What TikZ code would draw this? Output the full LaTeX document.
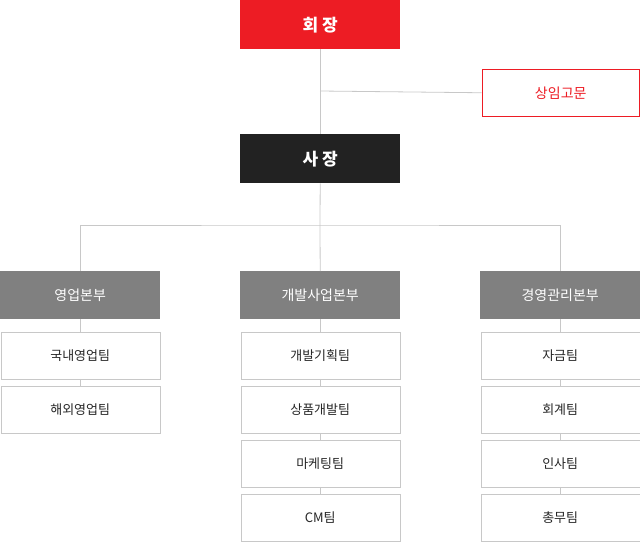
\documentclass[tikz,border=0pt]{standalone}
\usepackage{fontspec}
\setmainfont{Noto Sans CJK KR}
\definecolor{chairred}{HTML}{ED1C24}
\definecolor{presdark}{HTML}{222222}
\definecolor{divgray}{HTML}{808080}
\definecolor{linegray}{HTML}{C8C8C8}
\tikzset{
  box/.style={minimum width=160pt,minimum height=49pt,inner sep=0pt,anchor=north west},
  topbox/.style={box,fill=#1,text=white,font=\fontsize{17}{20}\selectfont\bfseries},
  divbox/.style={box,minimum height=48pt,fill=divgray,text=white,font=\fontsize{14}{17}\selectfont},
  teambox/.style={box,minimum width=159pt,minimum height=47pt,draw=linegray,fill=white,text=black!85,font=\fontsize{13}{16}\selectfont},
  link/.style={draw=linegray,line width=0.8pt}
}
\begin{document}
\begin{tikzpicture}[x=1pt,y=-1pt]
\useasboundingbox (0,0) rectangle (640,541);
\node[topbox=chairred] (chair) at (240,0) {회 장};
\node[box,minimum width=157pt,minimum height=47pt,draw=chairred,line width=1.5pt,text=chairred,font=\fontsize{14}{17}\selectfont] (adv) at (481.5,68.5) {상임고문};
\node[topbox=presdark] (pres) at (240,134) {사 장};
\coordinate (advj) at (320,91);
\coordinate (bus) at (320,225);
\node[divbox] (sales) at (0,271) {영업본부};
\node[divbox] (dev) at (240,271) {개발사업본부};
\node[divbox] (mgmt) at (480,271) {경영관리본부};
% teams
\foreach \col/\x/\names in {sales/0.5/{국내영업팀,해외영업팀},dev/240.5/{개발기획팀,상품개발팀,마케팅팀,CM팀},mgmt/480.5/{자금팀,회계팀,인사팀,총무팀}}{
  \foreach \n [count=\i] in \names {
    \pgfmathsetmacro{\yy}{331.5+54*(\i-1)}
    \node[teambox] (\col\i) at (\x,\yy) {\n};
  }
}
\begin{scope}[on background layer/.style={}]
\draw[link] (chair.south) -- (pres.north);
\draw[link] (advj) -- (adv.west);
\draw[link] (pres.south) -- (bus);
\draw[link] (sales.north) |- (bus) -| (mgmt.north);
\draw[link] (bus) -- (dev.north);
\draw[link] (sales.south) -- (sales1.north) (sales1.south) -- (sales2.north);
\foreach \c in {dev,mgmt}{
  \draw[link] (\c.south) -- (\c1.north) (\c1.south) -- (\c2.north)
    (\c2.south) -- (\c3.north) (\c3.south) -- (\c4.north);
}
\end{scope}
\end{tikzpicture}
\end{document}
